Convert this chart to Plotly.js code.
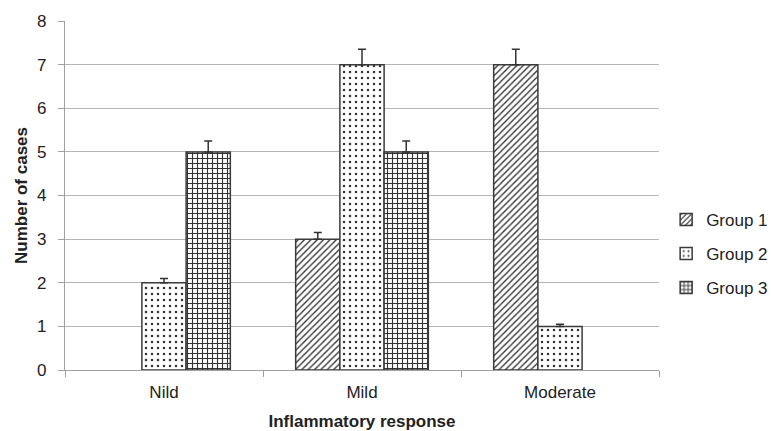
<!DOCTYPE html>
<html>
<head>
<meta charset="utf-8">
<script src="https://cdn.plot.ly/plotly-3.0.1.min.js"></script>
<style>html,body{margin:0;padding:0;background:#fff;}#chart{width:771px;height:431px;}</style>
</head>
<body>
<div id="chart"></div>
<script>
var categories = ["Nild", "Mild", "Moderate"];
var seriesNames = ["Group 1", "Group 2", "Group 3"];
var group1 = [null, 3, 7];
var group1Err = [0, 0.15, 0.35];
var group2 = [2, 7, 1];
var group2Err = [0.1, 0.35, 0.05];
var group3 = [5, 5, null];
var group3Err = [0.25, 0.25, 0];
var yTicks = [0, 1, 2, 3, 4, 5, 6, 7, 8];

var values = [group1, group2, group3];
var errs = [group1Err, group2Err, group3Err];
var shapes = ["/", ".", "+"];
var sizes = [4.5, 6, 5];
var solid = [0.3, 0.14, 0.4];

var traces = values.map(function (v, i) {
  return {
    type: "bar",
    name: seriesNames[i],
    legendgroup: "g" + i,
    x: categories,
    y: v,
    marker: {
      color: "#ffffff",
      line: { color: "#3a3a3a", width: 1.5 },
      pattern: { shape: shapes[i], fgcolor: "#333333", bgcolor: "#ffffff", size: sizes[i], solidity: solid[i] }
    },
    error_y: { type: "data", array: errs[i], arrayminus: errs[i].map(function () { return 0; }), symmetric: false, color: "#333333", thickness: 1.5, width: 4 }
  };
});

var layout = {
  width: 771,
  height: 431,
  margin: { l: 65, r: 112, t: 21, b: 61 },
  paper_bgcolor: "#ffffff",
  plot_bgcolor: "#ffffff",
  font: { family: "Liberation Sans, Arial, sans-serif", color: "#222222" },
  barmode: "group",
  bargap: 0.33,
  bargroupgap: 0,
  showlegend: true,
  legend: {
    xref: "container", yref: "container",
    x: 0.864, y: 0.411, xanchor: "left", yanchor: "middle",
    font: { size: 17, color: "#222222" },
    tracegroupgap: 9,
    itemwidth: 30,
    bgcolor: "rgba(0,0,0,0)"
  },
  xaxis: {
    type: "category",
    showline: true, linecolor: "#a0a0a0", linewidth: 1.2,
    ticks: "outside", tickson: "boundaries", ticklen: 6, tickcolor: "#a0a0a0",
    ticklabelstandoff: 6,
    tickfont: { size: 17, color: "#222222" },
    title: { text: "<b>Inflammatory response</b>", font: { size: 17, color: "#222222" }, standoff: 14 },
    showgrid: false
  },
  yaxis: {
    range: [0, 8],
    tickvals: yTicks,
    showline: true, linecolor: "#a0a0a0", linewidth: 1.2,
    ticks: "outside", ticklen: 6, tickcolor: "#a0a0a0",
    ticklabelstandoff: 8,
    tickfont: { size: 17, color: "#222222" },
    showgrid: true, gridcolor: "#b5b5b5", gridwidth: 1,
    zeroline: false,
    title: { text: "<b>Number of cases</b>", font: { size: 17, color: "#222222" }, standoff: 5 }
  }
};

Plotly.newPlot("chart", traces, layout, { displayModeBar: false, staticPlot: true });
</script>
</body>
</html>
